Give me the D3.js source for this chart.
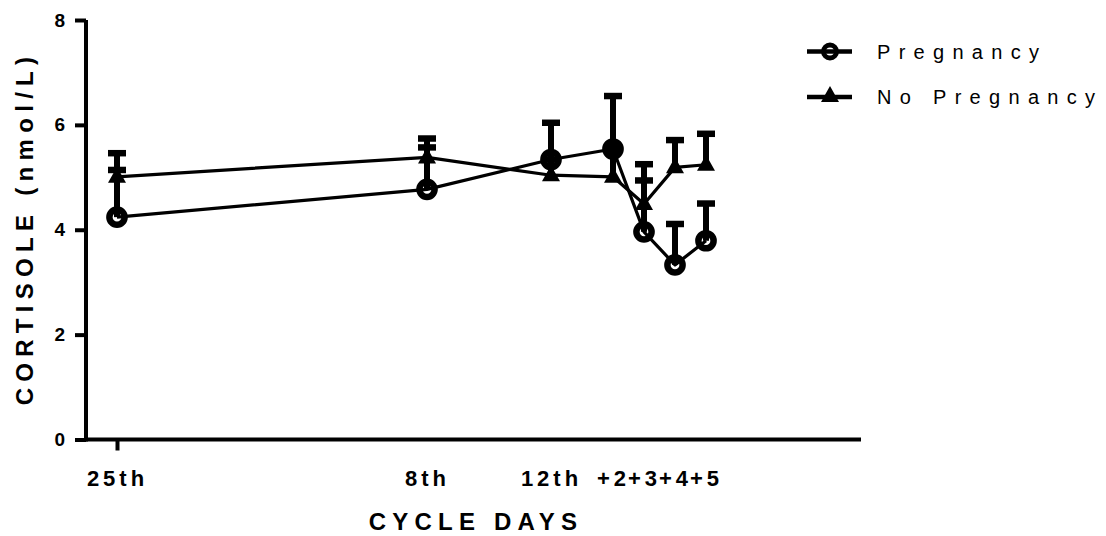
<!DOCTYPE html>
<html>
<head>
<meta charset="utf-8">
<script src="https://cdn.jsdelivr.net/npm/d3@7"></script>
<style>
  body { margin: 0; background: #fff; }
  svg { display: block; font-family: "Liberation Sans", Arial, sans-serif; }
</style>
</head>
<body>
<div id="chart"></div>
<script>
// cycle days (position on a day axis) and their labels
var dayPos = [-2, 8, 12, 14, 15, 16, 17];
var dayLabels = ["25th", "8th", "12th", "+2", "+3", "+4", "+5"];

// cortisole means and upper error (mean + SD), nmol/L
var pregMean = [4.24, 4.77, 5.34, 5.54, 3.96, 3.33, 3.79];
var pregUpper = [5.14, 5.57, 6.04, 6.55, 4.94, 4.11, 4.50];
var noPregMean = [5.01, 5.38, 5.04, 5.01, 4.49, 5.19, 5.24];
var noPregUpper = [5.46, 5.74, 5.34, 5.54, 5.25, 5.71, 5.83];

var yTicks = [0, 2, 4, 6, 8];
var seriesNames = ["Pregnancy", "No Pregnancy"];

var width = 1106, height = 536;

var svg = d3.select("#chart").append("svg")
    .attr("width", width)
    .attr("height", height);

var x = d3.scaleLinear().domain([-3, 22]).range([86, 861]);
var y = d3.scaleLinear().domain([0, 8]).range([439.5, 20]);

function rows(means, uppers) {
  return dayPos.map(function(d, i) {
    return { day: d, mean: means[i], upper: uppers[i] };
  });
}
var preg = rows(pregMean, pregUpper);
var noPreg = rows(noPregMean, noPregUpper);

// axes
var yAxis = svg.append("g")
    .attr("transform", "translate(86,0)")
    .call(d3.axisLeft(y).tickValues(yTicks).tickSize(11).tickSizeOuter(0).tickPadding(10));
yAxis.select(".domain").attr("stroke-width", 4).attr("d", "M0," + y(8) + "V" + (y(0) + 2));
yAxis.selectAll(".tick line").attr("stroke-width", 4);
yAxis.selectAll(".tick text")
    .attr("font-size", 19).attr("font-weight", "bold").attr("fill", "#000")
    .attr("font-family", "Liberation Sans, Arial, sans-serif");

var xAxis = svg.append("g")
    .attr("transform", "translate(0," + y(0) + ")")
    .call(d3.axisBottom(x).tickValues(dayPos).tickSize(11).tickSizeOuter(0)
      .tickFormat(function(d, i) { return dayLabels[i]; }).tickPadding(20));
xAxis.select(".domain").attr("stroke-width", 4).attr("d", "M84,0H861");
xAxis.selectAll(".tick line").attr("stroke-width", function(d, i) { return i === 0 ? 4 : 0; });
xAxis.selectAll(".tick text")
    .attr("font-size", 22).attr("font-weight", "bold").attr("fill", "#000")
    .attr("letter-spacing", 4)
    .attr("font-family", "Liberation Sans, Arial, sans-serif");

// axis titles
svg.append("text")
    .attr("x", 476).attr("y", 530)
    .attr("text-anchor", "middle")
    .attr("font-size", 24).attr("font-weight", "bold")
    .attr("letter-spacing", 6.2)
    .text("CYCLE DAYS");

svg.append("text")
    .attr("transform", "translate(33,228) rotate(-90)")
    .attr("text-anchor", "middle")
    .attr("font-size", 24).attr("font-weight", "bold")
    .attr("letter-spacing", 6.3)
    .text("CORTISOLE (nmol/L)");

// lines
var line = d3.line().x(function(d) { return x(d.day); }).y(function(d) { return y(d.mean); });
[preg, noPreg].forEach(function(s) {
  svg.append("path").datum(s)
      .attr("d", line)
      .attr("fill", "none").attr("stroke", "#000").attr("stroke-width", 3.2)
      .attr("stroke-linejoin", "round");
});

// error bars (upper only)
[preg, noPreg].forEach(function(s) {
  var g = svg.append("g");
  g.selectAll("line.stem").data(s).enter().append("line")
      .attr("x1", function(d) { return x(d.day); })
      .attr("x2", function(d) { return x(d.day); })
      .attr("y1", function(d) { return y(d.mean); })
      .attr("y2", function(d) { return y(d.upper); })
      .attr("stroke", "#000").attr("stroke-width", 6);
  g.selectAll("line.cap").data(s).enter().append("line")
      .attr("x1", function(d) { return x(d.day) - 9; })
      .attr("x2", function(d) { return x(d.day) + 9; })
      .attr("y1", function(d) { return y(d.upper); })
      .attr("y2", function(d) { return y(d.upper); })
      .attr("stroke", "#000").attr("stroke-width", 6.5);
});

var triPath = "M0,-10L9,6L-9,6Z";

// markers
svg.append("g").selectAll("path").data(noPreg).enter().append("path")
    .attr("transform", function(d) { return "translate(" + x(d.day) + "," + y(d.mean) + ")"; })
    .attr("d", triPath)
    .attr("fill", "#000");

svg.append("g").selectAll("circle").data(preg).enter().append("circle")
    .attr("cx", function(d) { return x(d.day); })
    .attr("cy", function(d) { return y(d.mean); })
    .attr("r", 7.6)
    .attr("fill", "none").attr("stroke", "#000").attr("stroke-width", 6.5);

// legend
var legend = svg.append("g");
var legY = [51.5, 97];
seriesNames.forEach(function(name, i) {
  legend.append("line")
      .attr("x1", 807).attr("x2", 852)
      .attr("y1", legY[i]).attr("y2", legY[i])
      .attr("stroke", "#000").attr("stroke-width", 4.5);
  if (i === 0) {
    legend.append("circle")
        .attr("cx", 830).attr("cy", legY[i]).attr("r", 6.5)
        .attr("fill", "none").attr("stroke", "#000").attr("stroke-width", 5);
  } else {
    legend.append("path")
        .attr("transform", "translate(830," + (legY[i] - 1) + ")")
        .attr("d", triPath)
        .attr("fill", "#000");
  }
  legend.append("text")
      .attr("x", 877).attr("y", legY[i] + 7)
      .attr("font-size", 20)
      .attr("letter-spacing", 8.3)
      .text(name);
});
</script>
</body>
</html>
